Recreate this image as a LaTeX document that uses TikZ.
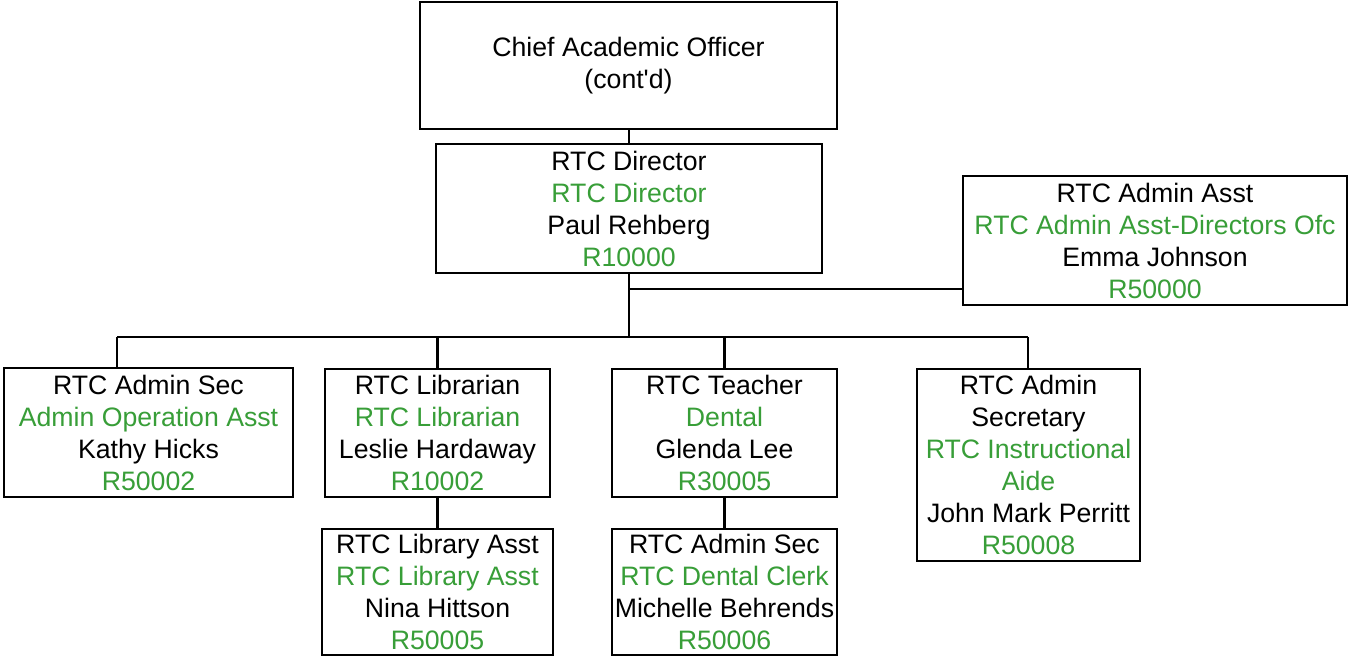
\documentclass[tikz,border=0pt]{standalone}
\usepackage{fontspec}
\setmainfont{Liberation Sans}
\definecolor{pgreen}{RGB}{56,158,56}
\newcommand{\gr}[1]{\textcolor{pgreen}{#1}}
\begin{document}
\begin{tikzpicture}[x=0.75pt,y=-0.75pt,
  box/.style={draw=black,line width=2.1pt,fill=white,inner sep=0pt,align=center,
    font=\fontsize{20pt}{24pt}\selectfont},
  conn/.style={draw=black,line width=1.8pt}]
\useasboundingbox (0,0) rectangle (1349,659);
\node[box,minimum width=312.75pt,minimum height=95.25pt] (chief) at (628.5,65.5) {Chief Academic Officer\\(cont\textquotesingle d)};
\node[box,minimum width=289.5pt,minimum height=96.75pt] (dir) at (629,208.5) {RTC Director\\\gr{RTC Director}\\Paul Rehberg\\\gr{R10000}};
\node[box,minimum width=288pt,minimum height=96.75pt] (asst) at (1155,240.5) {RTC Admin Asst\\\gr{RTC Admin Asst-Directors Ofc}\\Emma Johnson\\\gr{R50000}};
\node[box,minimum width=216.75pt,minimum height=96.75pt] (sec) at (148.5,432.5) {RTC Admin Sec\\\gr{Admin Operation Asst}\\Kathy Hicks\\\gr{R50002}};
\node[box,minimum width=168.75pt,minimum height=96pt] (lib) at (437.5,433) {RTC Librarian\\\gr{RTC Librarian}\\Leslie Hardaway\\\gr{R10002}};
\node[box,minimum width=168.75pt,minimum height=96pt] (teach) at (724.5,433) {RTC Teacher\\\gr{Dental}\\Glenda Lee\\\gr{R30005}};
\node[box,minimum width=167.25pt,minimum height=144pt] (aide) at (1028.5,465) {RTC Admin\\Secretary\\\gr{RTC Instructional}\\\gr{Aide}\\John Mark Perritt\\\gr{R50008}};
\node[box,minimum width=173.25pt,minimum height=94.5pt] (libasst) at (437.5,592) {RTC Library Asst\\\gr{RTC Library Asst}\\Nina Hittson\\\gr{R50005}};
\node[box,minimum width=168.75pt,minimum height=94.5pt] (clerk) at (724.5,592) {RTC Admin Sec\\\gr{RTC Dental Clerk}\\Michelle Behrends\\\gr{R50006}};
% connectors
\coordinate (t) at (629,337);
\coordinate (j) at (629,289);
\coordinate (d1) at (117,337);
\coordinate (d2) at (437.5,337);
\coordinate (d3) at (724.5,337);
\coordinate (d4) at (1028,337);
\draw[conn] (t |- chief.south) -- (t |- dir.north);
\draw[conn] (t |- dir.south) -- (t);
\draw[conn] (j) -- (j -| asst.west);
\draw[conn] (d1) -- (d4);
\draw[conn] (d1) -- (d1 |- sec.north);
\draw[conn] (d2) -- (d2 |- lib.north);
\draw[conn] (d3) -- (d3 |- teach.north);
\draw[conn] (d4) -- (d4 |- aide.north);
\draw[conn] (d2 |- lib.south) -- (d2 |- libasst.north);
\draw[conn] (d3 |- teach.south) -- (d3 |- clerk.north);
\end{tikzpicture}
\end{document}
